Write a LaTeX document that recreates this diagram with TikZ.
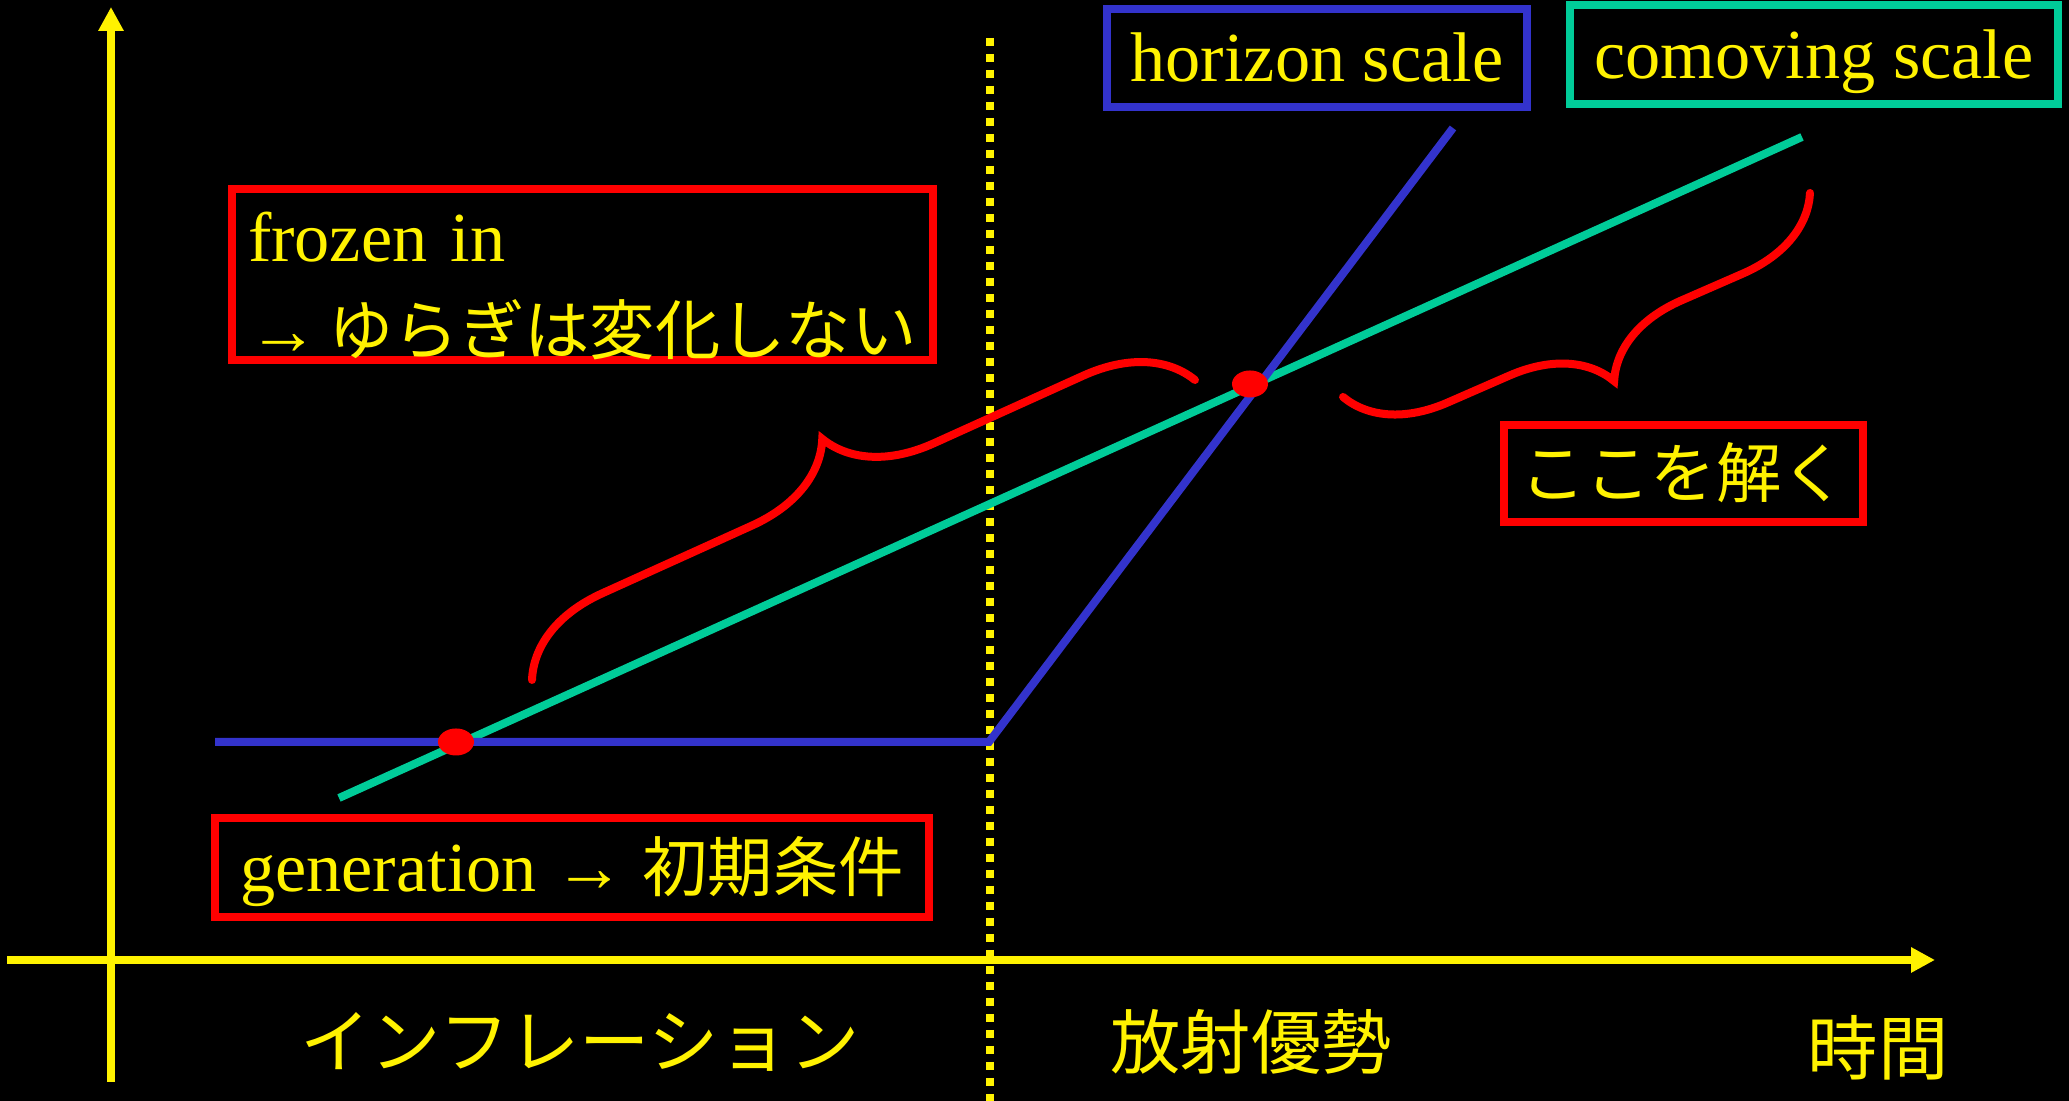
\documentclass[tikz,border=0pt]{standalone}
\usepackage{fontspec}
\setmainfont{Liberation Serif}
\newfontfamily\cjk{Noto Sans CJK JP}[Scale=0.93]
\usetikzlibrary{arrows.meta,decorations.pathreplacing}
\definecolor{hblue}{RGB}{51,51,204}
\definecolor{cgreen}{RGB}{0,204,153}

\begin{document}
\begin{tikzpicture}[
  txt/.style={text=yellow, font=\fontsize{20}{26.5}\selectfont},
  axlabel/.style={text=yellow, font=\fontsize{21.5}{26}\selectfont},
  box/.style={txt, draw, line width=0.08cm, inner sep=0pt},
  oneline/.style={text height=0.58cm, text depth=0.1cm},
  axis/.style={yellow, line width=0.08cm, -{Triangle[length=0.24cm,width=0.24cm]}},
  scaleline/.style={line width=0.08cm},
  bracket/.style={red, line width=0.08cm, line cap=round, decorate,
    decoration={brace, amplitude=#1}}
]

% fundo preto
\fill[black] (0,0) rectangle (20.69,11.01);
\useasboundingbox (0,0) rectangle (20.69,11.01);

% eixos
\coordinate (xs) at (0.07,1.41);
\coordinate (xe) at (19.35,1.41);
\coordinate (ys) at (1.11,0.19);
\coordinate (ye) at (1.11,10.94);
\draw[axis] (xs) -- (xe);
\draw[axis] (ys) -- (ye);

% fim da inflacao
\coordinate (dtop) at (9.90,10.63);
\coordinate (dbot) at (9.90,0);
\draw[yellow, line width=0.08cm, dash pattern=on 0.08cm off 0.08cm] (dtop) -- (dbot);

% comoving scale
\coordinate (c0) at (3.39,3.03);
\coordinate (c1) at (18.02,9.64);
\draw[scaleline, cgreen] (c0) -- (c1);

% horizon scale
\coordinate (h0) at (2.15,3.59);
\coordinate (h1) at (9.89,3.59);
\coordinate (h2) at (14.53,9.73);
\draw[scaleline, hblue] (h0) -- (h1) -- (h2);

% cruzamentos
\coordinate (p1) at (4.56,3.59);
\coordinate (p2) at (12.50,7.17);
\fill[red] (p1) ellipse (0.18 and 0.135);
\fill[red] (p2) ellipse (0.18 and 0.135);

% chaves
\coordinate (b1s) at (5.32,4.21);
\coordinate (b1e) at (11.95,7.21);
\coordinate (b2s) at (18.10,9.08);
\coordinate (b2e) at (13.43,7.04);
\draw[bracket=1cm] (b1s) -- (b1e);
\draw[bracket=0.94cm] (b2s) -- (b2e);

% caixas
\node[box, draw=red, minimum width=7.01cm, minimum height=1.71cm,
  text width=6.69cm, align=left, anchor=north west] (frozen) at (2.28,9.16)
  {\rule{0pt}{0.72cm}frozen in\\\mbox{→\hspace{0.1cm}{\cjk ゆらぎは変化しない}}};
\node[box, oneline, draw=red, minimum width=7.14cm, minimum height=0.99cm] (gen) at (5.72,2.335)
  {generation → {\cjk 初期条件}};
\node[box, oneline, draw=red, minimum width=3.59cm, minimum height=0.97cm] (solve) at (16.835,6.275)
  {\cjk ここを解く};
\node[box, oneline, draw=hblue, minimum width=4.20cm, minimum height=0.98cm] (hor) at (13.17,10.43)
  {horizon scale};
\node[box, oneline, draw=cgreen, minimum width=4.88cm, minimum height=0.99cm] (com) at (18.14,10.465)
  {comoving scale};

% rotulos do eixo
\node[axlabel] (infl) at (5.80,0.59) {\cjk インフレーション};
\node[axlabel] (rad) at (12.51,0.59) {\cjk 放射優勢};
\node[axlabel] (time) at (18.78,0.53) {\cjk 時間};

\end{tikzpicture}
\end{document}
